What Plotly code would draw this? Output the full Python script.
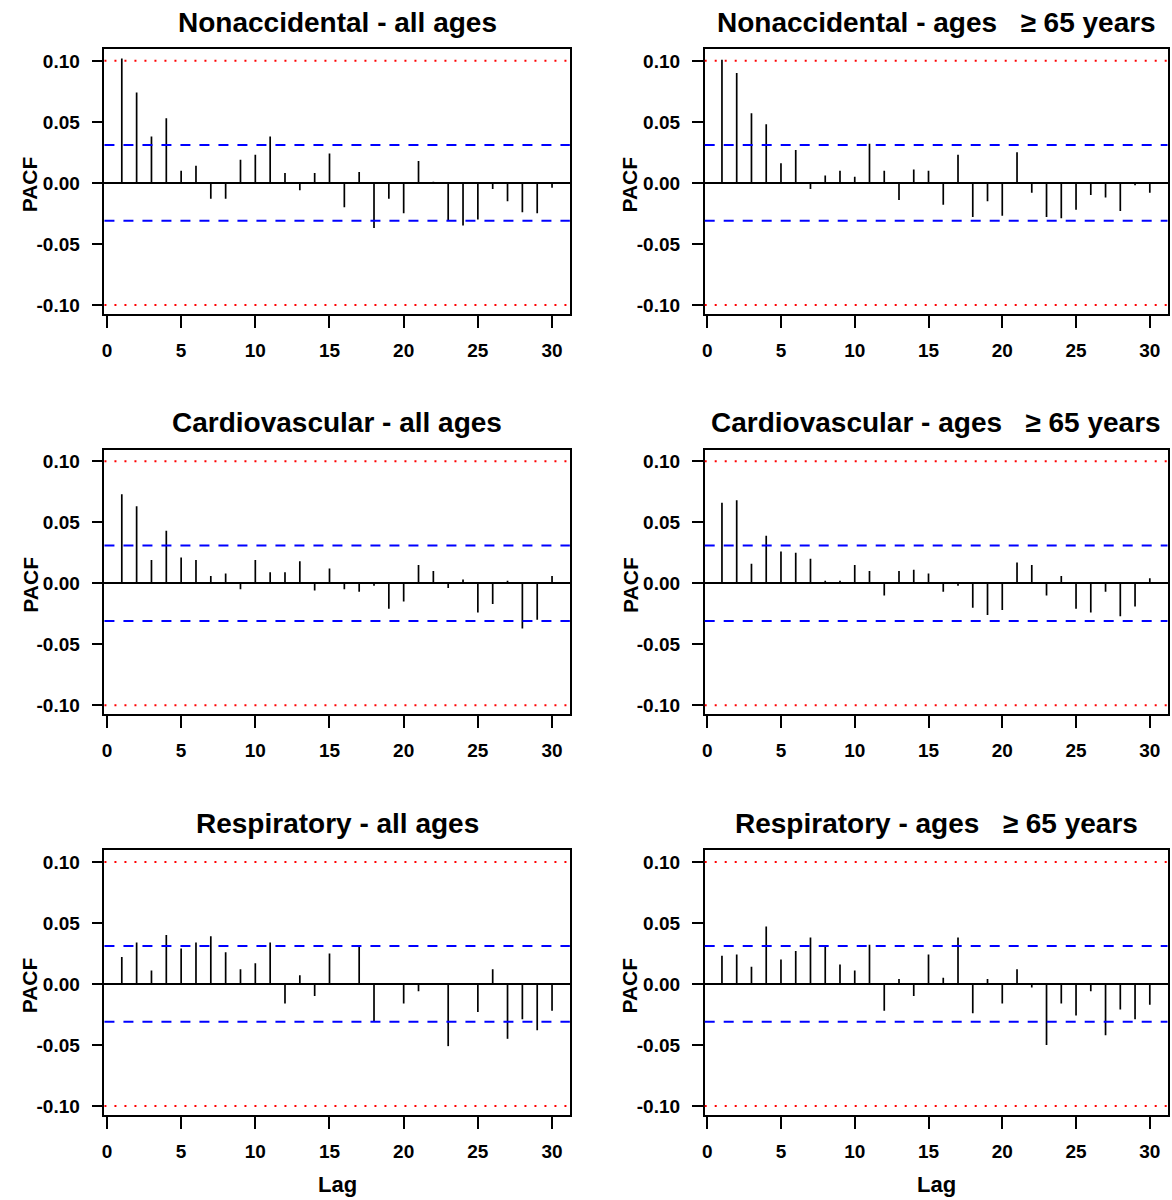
import plotly.graph_objects as go

# ---------------- data ----------------
lags = list(range(1, 31))

nonacc_all = [0.102, 0.074, 0.038, 0.053, 0.010, 0.014, -0.013, -0.013, 0.019, 0.023,
              0.038, 0.008, -0.006, 0.008, 0.024, -0.020, 0.009, -0.037, -0.013, -0.025,
              0.018, 0.001, -0.031, -0.035, -0.030, -0.005, -0.015, -0.024, -0.025, -0.004]

nonacc_65 = [0.101, 0.090, 0.057, 0.048, 0.016, 0.027, -0.005, 0.006, 0.010, 0.005,
             0.032, 0.010, -0.014, 0.011, 0.010, -0.018, 0.023, -0.028, -0.015, -0.027,
             0.025, -0.008, -0.028, -0.029, -0.022, -0.010, -0.012, -0.023, -0.002, -0.008]

cardio_all = [0.073, 0.063, 0.019, 0.043, 0.021, 0.019, 0.006, 0.008, -0.005, 0.019,
              0.009, 0.009, 0.018, -0.006, 0.012, -0.005, -0.007, -0.002, -0.021, -0.015,
              0.015, 0.010, -0.004, 0.003, -0.024, -0.017, 0.002, -0.037, -0.030, 0.006]

cardio_65 = [0.066, 0.068, 0.016, 0.039, 0.026, 0.025, 0.020, 0.002, 0.002, 0.015,
             0.010, -0.010, 0.010, 0.011, 0.008, -0.007, -0.002, -0.020, -0.026, -0.022,
             0.017, 0.015, -0.010, 0.006, -0.021, -0.024, -0.007, -0.027, -0.019, 0.004]

resp_all = [0.022, 0.034, 0.011, 0.040, 0.029, 0.034, 0.039, 0.026, 0.012, 0.017,
            0.034, -0.016, 0.007, -0.010, 0.025, 0.000, 0.031, -0.031, -0.001, -0.016,
            -0.006, -0.001, -0.051, -0.001, -0.023, 0.012, -0.045, -0.029, -0.038, -0.022]

resp_65 = [0.023, 0.024, 0.014, 0.047, 0.020, 0.027, 0.038, 0.031, 0.016, 0.011,
           0.032, -0.022, 0.004, -0.010, 0.024, 0.005, 0.038, -0.024, 0.004, -0.016,
           0.012, -0.003, -0.050, -0.016, -0.026, -0.006, -0.042, -0.021, -0.029, -0.017]

titles = [
    "Nonaccidental - all ages",
    "Nonaccidental - ages\u00a0\u00a0\u00a0\u2265 65 years",
    "Cardiovascular - all ages",
    "Cardiovascular - ages\u00a0\u00a0\u00a0\u2265 65 years",
    "Respiratory - all ages",
    "Respiratory - ages\u00a0\u00a0\u00a0\u2265 65 years",
]
series = [nonacc_all, nonacc_65, cardio_all, cardio_65, resp_all, resp_65]

ci_level = 0.031      # blue dashed significance bounds
outer_level = 0.10    # red dotted lines
y_ticks = [-0.10, -0.05, 0.00, 0.05, 0.10]
y_ticktext = ["-0.10", "-0.05", "0.00", "0.05", "0.10"]
x_ticks = [0, 5, 10, 15, 20, 25, 30]

# ---------------- layout geometry (pixels) ----------------
W, H = 1172, 1200
col_x = [(101.7, 568.3), (703.5, 1167.5)]
row_top = [49.3, 450.0, 851.0]
row_h = 265.0

FONT = "Liberation Sans, Arial, Helvetica, sans-serif"

fig = go.Figure()
annotations = []
shapes = []

for i, (title, vals) in enumerate(zip(titles, series)):
    r, c = divmod(i, 2)
    n = i + 1
    xa = "x" if n == 1 else f"x{n}"
    ya = "y" if n == 1 else f"y{n}"
    xkey = "xaxis" if n == 1 else f"xaxis{n}"
    ykey = "yaxis" if n == 1 else f"yaxis{n}"

    x0p, x1p = col_x[c]
    top = row_top[r]
    bot = top + row_h
    xdom = [x0p / W, x1p / W]
    ydom = [1 - bot / H, 1 - top / H]

    xs, ys = [], []
    for lag, v in zip(lags, vals):
        xs += [lag, lag, None]
        ys += [0, v, None]
    fig.add_trace(go.Scatter(x=xs, y=ys, mode="lines",
                             line=dict(color="black", width=1.7),
                             xaxis=xa, yaxis=ya, showlegend=False,
                             hoverinfo="skip"))

    fig.layout[xkey] = dict(
        domain=xdom, anchor=ya, range=[-0.17, 31.2],
        tickvals=x_ticks, ticks="outside", ticklen=12, tickwidth=1.5,
        tickcolor="black", showline=True, mirror=True, linecolor="black",
        linewidth=1.6, showgrid=False, zeroline=False,
        tickfont=dict(family=FONT, size=19, color="black", weight="bold"),
        ticklabelstandoff=6,
    )
    fig.layout[ykey] = dict(
        domain=ydom, anchor=xa, range=[-0.1075, 0.1095],
        tickvals=y_ticks, ticktext=y_ticktext, ticks="outside", ticklen=11,
        tickwidth=1.5, tickcolor="black", showline=True, mirror=True,
        linecolor="black", linewidth=1.6, showgrid=False,
        zeroline=True, zerolinecolor="black", zerolinewidth=1.6,
        tickfont=dict(family=FONT, size=19, color="black", weight="bold"),
        ticklabelstandoff=8,
    )

    for lvl in (outer_level, -outer_level):
        shapes.append(dict(type="line", xref=f"{xa} domain", yref=ya,
                           x0=0, x1=1, y0=lvl, y1=lvl,
                           line=dict(color="#FF0000", width=2, dash="2px,8px")))
    for lvl in (ci_level, -ci_level):
        shapes.append(dict(type="line", xref=f"{xa} domain", yref=ya,
                           x0=0, x1=1, y0=lvl, y1=lvl,
                           line=dict(color="#0000FF", width=2, dash="10px,9px")))

    # panel title
    annotations.append(dict(text=title, xref="paper", yref="paper",
                            x=(x0p + x1p) / 2 / W, y=1 - (top - 27) / H,
                            xanchor="center", yanchor="middle", showarrow=False,
                            font=dict(family=FONT, size=28, color="black",
                                      weight="bold")))
    # y label
    annotations.append(dict(text="PACF", xref="paper", yref="paper",
                            x=(x0p - 75) / W, y=1 - (top + row_h / 2 + 3) / H,
                            xanchor="center", yanchor="middle", textangle=-90,
                            showarrow=False,
                            font=dict(family=FONT, size=21, color="black",
                                      weight="bold")))
    if r == 2:
        annotations.append(dict(text="Lag", xref="paper", yref="paper",
                                x=(x0p + x1p) / 2 / W, y=1 - 1185 / H,
                                xanchor="center", yanchor="middle",
                                showarrow=False,
                                font=dict(family=FONT, size=22, color="black",
                                          weight="bold")))

fig.update_layout(
    width=W, height=H,
    margin=dict(l=0, r=0, t=0, b=0),
    paper_bgcolor="white", plot_bgcolor="white",
    annotations=annotations, shapes=shapes,
    showlegend=False,
)

fig.write_html("out.html")
